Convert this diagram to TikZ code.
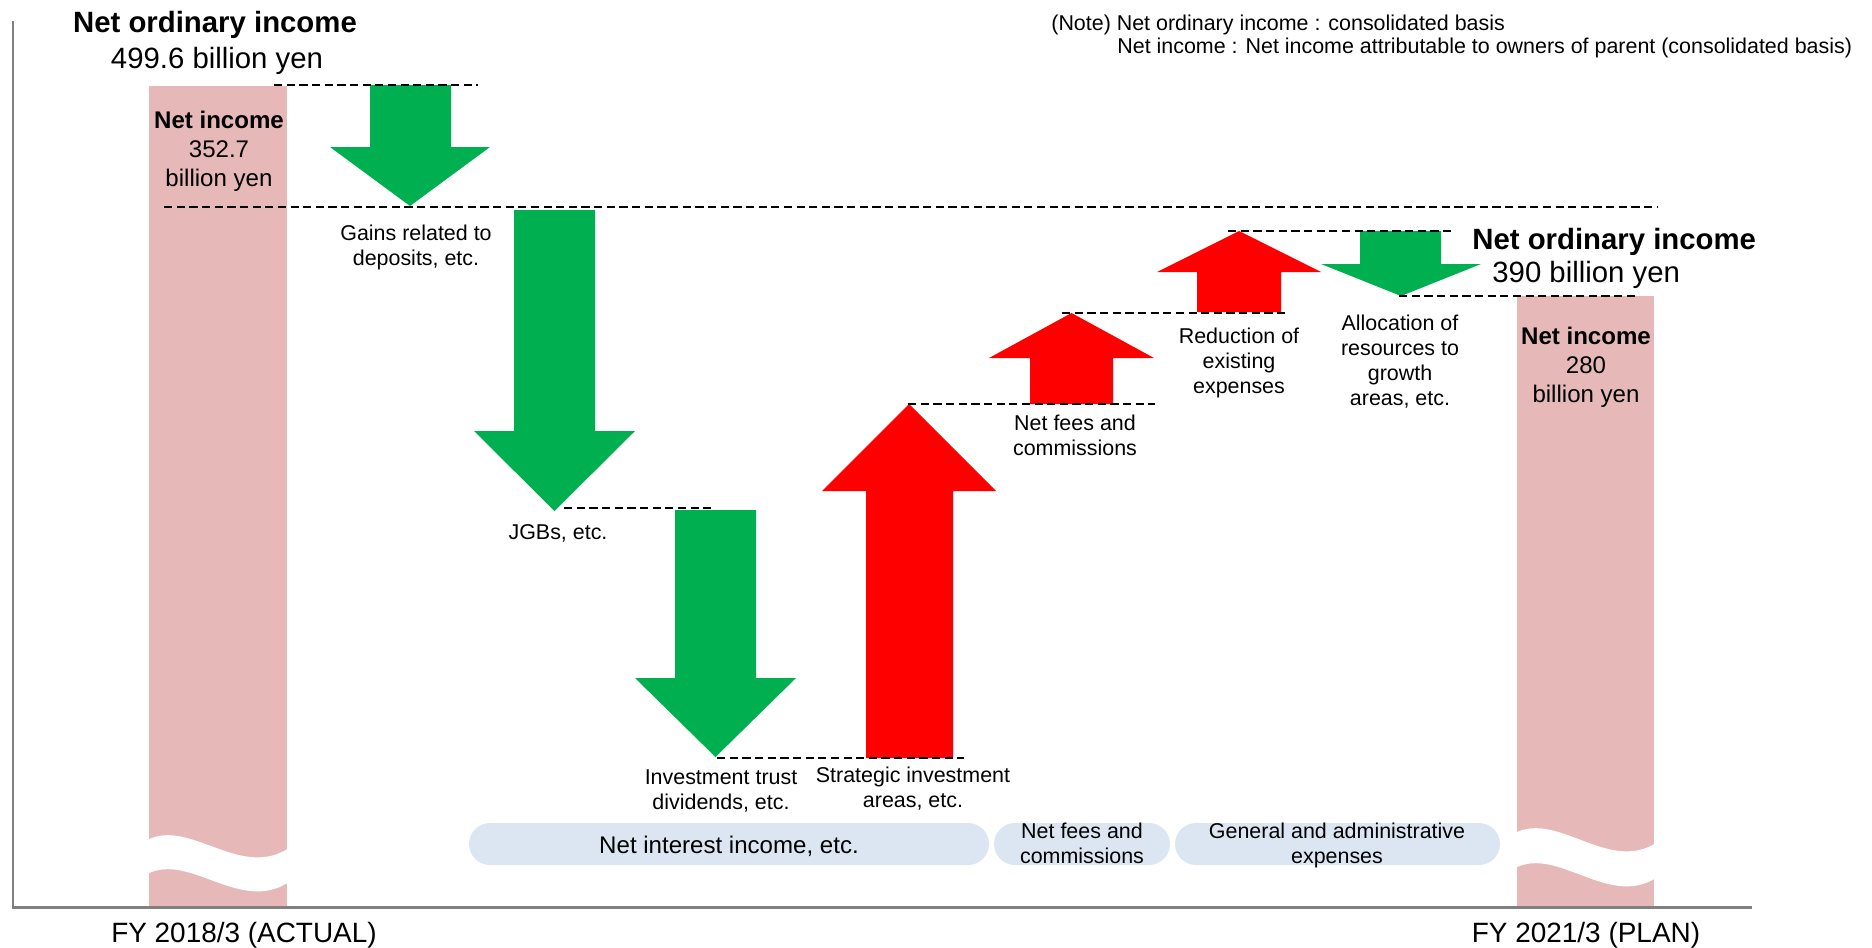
\documentclass[tikz,border=0pt]{standalone}
\usepackage{fontspec}
\setmainfont{Liberation Sans}
\usepackage{xcolor}
\usepackage{tikz}

\definecolor{barpink}{HTML}{E6B9B8}
\definecolor{upred}{HTML}{FF0000}
\definecolor{downgreen}{HTML}{00B050}
\definecolor{bandblue}{HTML}{DCE6F2}
\definecolor{axisgray}{HTML}{808080}

% block arrow: colour, shaft left, shaft right, tail y, head base y, head left, head right, tip y
\newcommand{\blockarrow}[8]{%
  \fill[#1] (#2,#4) -- (#3,#4) -- (#3,#5) -- (#7,#5) -- ({(#6+#7)/2},#8) -- (#6,#5) -- (#2,#5) -- cycle;}

\begin{document}
\begin{tikzpicture}[x=0.02cm, y=-0.02cm,
    guide/.style={black, line width=0.85pt, dash pattern=on 4.7pt off 2.5pt},
    headline/.style={inner sep=0, font=\fontsize{16.7}{20}\selectfont\bfseries},
    headvalue/.style={inner sep=0, font=\fontsize{16.7}{20}\selectfont},
    bartext/.style={anchor=north, inner sep=0, align=center, font=\fontsize{13.7}{16.4}\selectfont},
    lbl/.style={anchor=north, inner sep=0, align=center, font=\fontsize{12.2}{14.2}\selectfont},
    yearlbl/.style={anchor=base, inner sep=0, font=\fontsize{15.9}{19}\selectfont},
    notelbl/.style={anchor=base west, inner sep=0, font=\fontsize{12.2}{14}\selectfont}]
    \useasboundingbox (0,0) rectangle (1872,947);

    % Bars
    \fill[barpink] (149,86) rectangle (287,907);
    \fill[barpink] (1517,296) rectangle (1654,907);

    % Breaks in the bars
    \fill[white] (147,840) .. controls (190,818) and (240,880) .. (289,848)
        -- (289,882) .. controls (240,914) and (190,852) .. (147,874) -- cycle;
    \fill[white] (1515,833) .. controls (1558,811) and (1608,873) .. (1656,843)
        -- (1656,878) .. controls (1608,908) and (1558,846) .. (1515,868) -- cycle;

    % Axes
    \draw[axisgray, line width=1.7pt] (13,21) -- (13,907) -- (1752,907);

    % Arrows
    \blockarrow{downgreen}{370}{451}{85}{147}{330}{490}{206}
    \blockarrow{downgreen}{514}{595}{210}{431}{474}{635}{511}
    \blockarrow{downgreen}{675}{756}{510}{678}{635}{796}{757}
    \blockarrow{upred}{866}{953}{758}{491}{822}{996}{404}
    \blockarrow{upred}{1030}{1113}{404}{358}{989}{1154}{313}
    \blockarrow{upred}{1197}{1281}{312}{272}{1157}{1321}{231}
    \blockarrow{downgreen}{1360}{1441}{231}{264}{1321}{1481}{296}

    % Guide lines
    \draw[guide] (274,85) -- (478,85);
    \draw[guide] (164,207) -- (1657,207);
    \draw[guide] (564,508) -- (712,508);
    \draw[guide] (717,758) -- (964,758);
    \draw[guide] (908,404) -- (1155,404);
    \draw[guide] (1062,313) -- (1288,313);
    \draw[guide] (1228,231) -- (1452,231);
    \draw[guide] (1399,296) -- (1638,296);

    % Totals
    \node[headline, anchor=base] (ordL) at (215,32) {Net ordinary income};
    \node[headvalue, anchor=base] (ordLval) at (217,68) {499.6 billion yen};
    \node[headline, anchor=base west] (ordR) at (1472,249) {Net ordinary income};
    \node[headvalue, anchor=base west] (ordRval) at (1492,282) {390 billion yen};
    \node[bartext] (netL) at (219,111) {\textbf{Net income}\\352.7\\billion yen};
    \node[bartext] (netR) at (1586,327) {\textbf{Net income}\\280\\billion yen};

    % Arrow labels
    \node[lbl] (gains) at (416,225) {Gains related to\\deposits, etc.};
    \node[lbl] (jgb) at (558,524) {JGBs, etc.};
    \node[lbl] (trust) at (721,769) {Investment trust\\dividends, etc.};
    \node[lbl] (strat) at (913,767) {Strategic investment\\areas, etc.};
    \node[lbl] (fees) at (1075,415) {Net fees and\\commissions};
    \node[lbl] (reduce) at (1239,328) {Reduction of\\existing\\expenses};
    \node[lbl] (alloc) at (1400,315) {Allocation of\\resources to\\growth\\areas, etc.};

    % Category bands
    \fill[bandblue, rounded corners=0.42cm] (469,823) rectangle (989,865);
    \fill[bandblue, rounded corners=0.42cm] (994,823) rectangle (1170,865);
    \fill[bandblue, rounded corners=0.42cm] (1175,823) rectangle (1500,865);
    \node[anchor=base, inner sep=0, font=\fontsize{13.7}{16}\selectfont] (nii) at (729,853) {Net interest income, etc.};
    \node[lbl] (nfc) at (1082,823) {Net fees and\\commissions};
    \node[lbl] (gae) at (1337,823) {General and administrative\\expenses};

    % Years
    \node[yearlbl] (fyL) at (244,942) {FY 2018/3 (ACTUAL)};
    \node[yearlbl] (fyR) at (1586,942) {FY 2021/3 (PLAN)};

    % Note
    \node[notelbl] (noteA) at (1051,30) {(Note) Net ordinary income : consolidated basis};
    \node[notelbl] (noteB) at (1117,53) {Net income : Net income attributable to owners of parent (consolidated basis)};
\end{tikzpicture}
\end{document}
